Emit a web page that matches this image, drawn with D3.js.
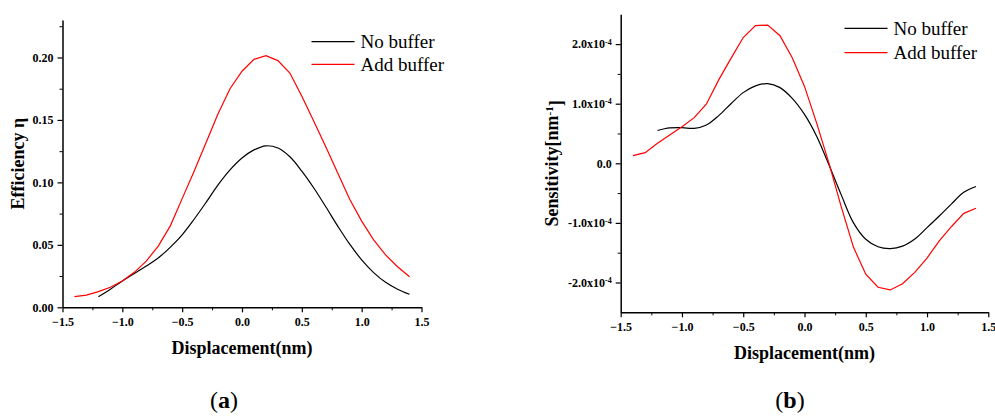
<!DOCTYPE html>
<html>
<head>
<meta charset="utf-8">
<script src="https://cdn.jsdelivr.net/npm/d3@7"></script>
<style>
  body { margin: 0; background: #fff; }
  svg { display: block; }
  .domain, .tick line { stroke: #000; }
</style>
</head>
<body>
<div id="chart"></div>
<script>
// displacement values (nm)
var xNoBuf = d3.range(-12, 15).map(function(i){ return i / 10; });   // -1.2 .. 1.4
var xAddBuf = d3.range(-14, 15).map(function(i){ return i / 10; });  // -1.4 .. 1.4

// (a) efficiency
var effNoBuf = [0.0085, 0.0145, 0.021, 0.027, 0.033, 0.0395, 0.048, 0.058, 0.0705, 0.084, 0.098, 0.110, 0.1195,
  0.126, 0.1293, 0.1275, 0.1205, 0.109, 0.0955, 0.0805, 0.065, 0.0505, 0.038, 0.0278, 0.020, 0.0145, 0.0104];
var effAddBuf = [0.0085, 0.0098, 0.0125, 0.016, 0.021, 0.028, 0.037, 0.049, 0.065, 0.087, 0.109, 0.132, 0.155, 0.175,
  0.189, 0.1985, 0.2015, 0.1975, 0.1875, 0.169, 0.149, 0.1285, 0.1075, 0.0865, 0.069, 0.054, 0.042, 0.0325, 0.0245];

// (b) sensitivity, in units of 1e-4 nm^-1
var sensNoBuf = [0.55, 0.593, 0.598, 0.587, 0.643, 0.80, 1.0, 1.186, 1.30, 1.337, 1.27, 1.09, 0.82,
  0.45, -0.03, -0.53, -1.0, -1.275, -1.40, -1.43, -1.39, -1.27, -1.08, -0.885, -0.68, -0.487, -0.39];
var sensAddBuf = [0.129, 0.179, 0.336, 0.475, 0.615, 0.766, 0.995, 1.40, 1.76, 2.11, 2.31, 2.32, 2.14, 1.77,
  1.29, 0.67, 0.0, -0.73, -1.41, -1.86, -2.08, -2.125, -2.02, -1.83, -1.59, -1.30, -1.06, -0.84, -0.755];

var xTicks = [-1.5, -1.0, -0.5, 0.0, 0.5, 1.0, 1.5];
var xMinor = [-1.25, -0.75, -0.25, 0.25, 0.75, 1.25];
var effTicks = [0, 0.05, 0.10, 0.15, 0.20];
var effMinor = [0.025, 0.075, 0.125, 0.175, 0.225];
var sensTicks = [-2, -1, 0, 1, 2];
var sensMinor = [-1.5, -0.5, 0.5, 1.5];
var legendNames = ["No buffer", "Add buffer"];
var colors = ["#000", "#ff0000"];

var serif = "Liberation Serif, Times New Roman, serif";
var w = 995, h = 417;
var svg = d3.select("#chart").append("svg").attr("width", w).attr("height", h);

function panel(o) {
  var g = svg.append("g");
  var x = d3.scaleLinear().domain([-1.5, 1.5]).range([o.x0, o.x1]);
  var y = d3.scaleLinear().domain(o.yDomain).range([o.y0, o.y1]);

  // minor ticks first, then majors on top
  g.append("g").attr("transform", "translate(0," + o.y0 + ")")
    .call(d3.axisBottom(x).tickValues(xMinor).tickSize(3).tickSizeOuter(0).tickFormat(""))
    .select(".domain").remove();
  g.append("g").attr("transform", "translate(" + o.x0 + ",0)")
    .call(d3.axisLeft(y).tickValues(o.yMinor).tickSize(3).tickSizeOuter(0).tickFormat(""))
    .select(".domain").remove();

  var xa = g.append("g").attr("transform", "translate(0," + o.y0 + ")")
    .call(d3.axisBottom(x).tickValues(xTicks).tickSize(5).tickSizeOuter(0).tickPadding(5).tickFormat(d3.format(".1f")));
  var ya = g.append("g").attr("transform", "translate(" + o.x0 + ",0)")
    .call(d3.axisLeft(y).tickValues(o.yTicks).tickSize(5).tickSizeOuter(0).tickPadding(4).tickFormat(o.yFormat));
  [xa, ya].forEach(function(a){
    a.attr("font-family", serif).attr("font-size", 12).attr("font-weight", "bold");
    a.select(".domain").attr("stroke-width", 1.5);
    a.selectAll(".tick line").attr("stroke-width", 1.2);
  });
  if (o.sci) {
    ya.selectAll(".tick text").each(function(d){
      var t = d3.select(this).text("");
      if (d === 0) { t.text("0.0"); return; }
      t.append("tspan").text(d.toFixed(1) + "x10");
      t.append("tspan").attr("dy", "-0.45em").style("font-size", "8px").text("-4");
    });
  }

  var line = d3.line().x(function(d){ return x(d[0]); }).y(function(d){ return y(d[1]); });
  g.append("path")
    .attr("fill", "none").attr("stroke", colors[0]).attr("stroke-width", 1.2)
    .attr("d", line.curve(d3.curveCatmullRom)(d3.zip(xNoBuf, o.s1)));
  g.append("path")
    .attr("fill", "none").attr("stroke", colors[1]).attr("stroke-width", 1.2)
    .attr("d", line.curve(d3.curveLinear)(d3.zip(xAddBuf, o.s2)));

  // legend
  legendNames.forEach(function(name, i){
    var ly = o.legY[i];
    g.append("line").attr("x1", o.legX).attr("x2", o.legX + 43).attr("y1", ly).attr("y2", ly)
      .attr("stroke", colors[i]).attr("stroke-width", 1.3);
    g.append("text").text(name).attr("x", o.legX + 49).attr("y", ly + 6.5)
      .style("font-family", serif).style("font-size", "19px").style("fill", "#000");
  });

  // axis titles
  g.append("text").text("Displacement(nm)")
    .attr("x", (o.x0 + o.x1) / 2).attr("y", o.y0 + 47).attr("text-anchor", "middle")
    .style("font-family", serif).style("font-weight", "bold").style("font-size", "18px");
  var yt = g.append("text").attr("text-anchor", "middle")
    .attr("transform", "translate(" + o.ytX + "," + ((o.y0 + o.y1) / 2) + ") rotate(-90)")
    .style("font-family", serif).style("font-weight", "bold").style("font-size", "18px");
  yt.append("tspan").text(o.yTitle);
  if (o.sci) {
    yt.append("tspan").attr("dy", "-0.5em").style("font-size", "11px").text("-1");
    yt.append("tspan").attr("dy", "0.5em").text("]");
  }

  // panel letter
  var pl = svg.append("text").attr("x", o.letterX).attr("y", 408).attr("text-anchor", "middle")
    .style("font-family", serif).style("font-size", "24px");
  pl.append("tspan").text("(");
  pl.append("tspan").style("font-weight", "bold").text(o.letter);
  pl.append("tspan").text(")");
}

panel({ x0: 62.5, x1: 421.5, y0: 307.3, y1: 20, yDomain: [0, 0.23],
  yTicks: effTicks, yMinor: effMinor, yFormat: d3.format(".2f"),
  s1: effNoBuf, s2: effAddBuf, legX: 311.5, legY: [41.7, 64.3],
  yTitle: "Efficiency \u03b7", ytX: 24, letter: "a", letterX: 224 });

panel({ x0: 620.7, x1: 988.3, y0: 312.3, y1: 14.3, yDomain: [-2.5, 2.5],
  yTicks: sensTicks, yMinor: sensMinor, yFormat: d3.format(".1f"), sci: true,
  s1: sensNoBuf, s2: sensAddBuf, legX: 844.5, legY: [28.3, 52.7],
  yTitle: "Sensitivity[nm", ytX: 558, letter: "b", letterX: 790 });
</script>
</body>
</html>
